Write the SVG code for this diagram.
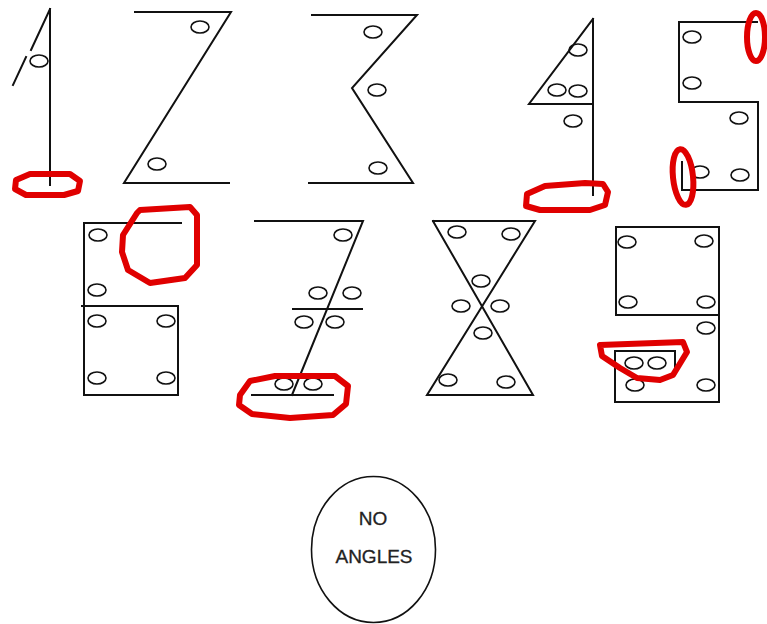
<svg xmlns="http://www.w3.org/2000/svg" width="767" height="624" viewBox="0 0 767 624">
<style>
.l{stroke:#111;stroke-width:2;fill:none;stroke-linecap:square}
.e{stroke:#111;stroke-width:1.6;fill:none}
.r{stroke:#e00000;stroke-width:6;fill:none;stroke-linejoin:round}
.t{font-family:"Liberation Sans",Arial,sans-serif;font-size:19px;fill:#222;text-anchor:middle;stroke:#222;stroke-width:0.3}
</style>
<rect width="767" height="624" fill="#fff"/>
<g id="d1">
<path class="l" d="M50 9V185M50 9L31 50M26 57L13 85"/>
<ellipse class="e" cx="39" cy="61" rx="9" ry="6"/>
<path class="r" d="M16 180L30 174H70L80 181L78 191L64 195H26L15 189Z"/>
</g>
<g id="d2">
<path class="l" d="M135 12H231L124 183H229"/>
<ellipse class="e" cx="200" cy="27" rx="9" ry="6"/>
<ellipse class="e" cx="157" cy="164" rx="9" ry="6"/>
</g>
<g id="d3">
<path class="l" d="M312 15H417L352 88L413 183H309"/>
<ellipse class="e" cx="373" cy="32" rx="9" ry="6"/>
<ellipse class="e" cx="377" cy="90" rx="9" ry="6"/>
<ellipse class="e" cx="378" cy="168" rx="9" ry="6"/>
</g>
<g id="d4">
<path class="l" d="M593 19V195M593 19L529 104H593"/>
<ellipse class="e" cx="578" cy="50" rx="9" ry="6"/>
<ellipse class="e" cx="557" cy="90" rx="9" ry="6"/>
<ellipse class="e" cx="578" cy="91" rx="9" ry="6"/>
<ellipse class="e" cx="573" cy="121" rx="9" ry="6"/>
<path class="r" d="M527 194L545 186L585 183L603 184L608 192L605 205L590 210H540L526 206Z"/>
</g>
<g id="d5">
<path class="l" d="M679 22H757M679 22V102H758V190H682M682 162V190"/>
<ellipse class="e" cx="692" cy="37" rx="9" ry="6"/>
<ellipse class="e" cx="692" cy="83" rx="9" ry="6"/>
<ellipse class="e" cx="739" cy="118" rx="9" ry="6"/>
<ellipse class="e" cx="700" cy="172" rx="9" ry="6"/>
<ellipse class="e" cx="740" cy="175" rx="9" ry="6"/>
<ellipse class="r" cx="756" cy="37" rx="9" ry="24"/>
<ellipse class="r" cx="683" cy="177" rx="10" ry="28" transform="rotate(-6 683 177)"/>
</g>
<g id="d6">
<path class="l" d="M181 223H84V395H178V306H82"/>
<ellipse class="e" cx="98" cy="235" rx="9" ry="6"/>
<ellipse class="e" cx="97" cy="290" rx="9" ry="6"/>
<ellipse class="e" cx="97" cy="321" rx="9" ry="6"/>
<ellipse class="e" cx="166" cy="321" rx="9" ry="6"/>
<ellipse class="e" cx="97" cy="378" rx="9" ry="6"/>
<ellipse class="e" cx="166" cy="378" rx="9" ry="6"/>
<path class="r" d="M140 210L190 207L197 215V265L185 278L150 283L128 270L122 252L123 235L137 213Z"/>
</g>
<g id="d7">
<path class="l" d="M255 221H363L292 395M293 309H362M252 395H333"/>
<ellipse class="e" cx="343" cy="235" rx="9" ry="6"/>
<ellipse class="e" cx="318" cy="293" rx="9" ry="6"/>
<ellipse class="e" cx="352" cy="293" rx="9" ry="6"/>
<ellipse class="e" cx="304" cy="322" rx="9" ry="6"/>
<ellipse class="e" cx="335" cy="322" rx="9" ry="6"/>
<ellipse class="e" cx="284" cy="384" rx="9" ry="6"/>
<ellipse class="e" cx="313" cy="384" rx="9" ry="6"/>
<path class="r" d="M240 395L250 381L275 376H335L348 386L346 404L333 415L290 418L252 414L239 405Z"/>
</g>
<g id="d8">
<path class="l" d="M433 221H535L427 395H533L433 221"/>
<ellipse class="e" cx="457" cy="232" rx="9" ry="6"/>
<ellipse class="e" cx="511" cy="234" rx="9" ry="6"/>
<ellipse class="e" cx="481" cy="281" rx="9" ry="6"/>
<ellipse class="e" cx="461" cy="306" rx="9" ry="6"/>
<ellipse class="e" cx="500" cy="306" rx="9" ry="6"/>
<ellipse class="e" cx="483" cy="333" rx="9" ry="6"/>
<ellipse class="e" cx="448" cy="380" rx="9" ry="6"/>
<ellipse class="e" cx="506" cy="382" rx="9" ry="6"/>
</g>
<g id="d9">
<path class="l" d="M616 227H719V402H615V351H675V368M616 227V315H719"/>
<ellipse class="e" cx="627" cy="242" rx="9" ry="6"/>
<ellipse class="e" cx="704" cy="241" rx="9" ry="6"/>
<ellipse class="e" cx="628" cy="302" rx="9" ry="6"/>
<ellipse class="e" cx="706" cy="302" rx="9" ry="6"/>
<ellipse class="e" cx="706" cy="328" rx="9" ry="6"/>
<ellipse class="e" cx="634" cy="363" rx="9" ry="6"/>
<ellipse class="e" cx="657" cy="363" rx="9" ry="6"/>
<ellipse class="e" cx="635" cy="385" rx="9" ry="6"/>
<ellipse class="e" cx="706" cy="385" rx="9" ry="6"/>
<path class="r" d="M600 345L683 342L687 352L673 375L660 380L637 378L620 368L602 356Z"/>
</g>
<g id="oval">
<ellipse class="e" cx="373.5" cy="549.5" rx="62" ry="73"/>
<text class="t" x="373" y="525">NO</text>
<text class="t" x="374" y="563">ANGLES</text>
</g>
</svg>
